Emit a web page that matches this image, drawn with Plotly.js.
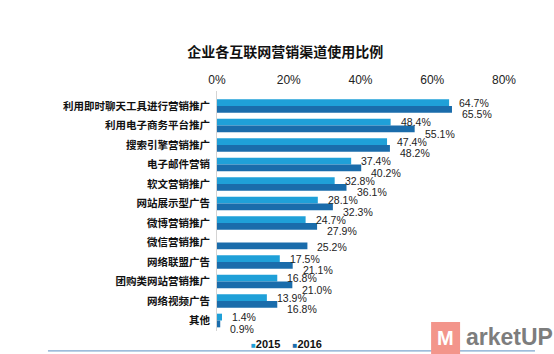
<!DOCTYPE html>
<html>
<head>
<meta charset="utf-8">
<script src="https://cdn.plot.ly/plotly-3.0.1.min.js"></script>
<style>html,body{margin:0;padding:0;background:#fff;}#chart{width:554px;height:354px;}</style>
</head>
<body>
<div id="chart"></div>
<script>
const categories = ["利用即时聊天工具进行营销推广","利用电子商务平台推广","搜索引擎营销推广","电子邮件营销","软文营销推广","网站展示型广告","微博营销推广","微信营销推广","网络联盟广告","团购类网站营销推广","网络视频广告","其他"];
const values2015 = [64.7, 48.4, 47.4, 37.4, 32.8, 28.1, 24.7, null, 17.5, 16.8, 13.9, 1.4];
const values2016 = [65.5, 55.1, 48.2, 40.2, 36.1, 32.3, 27.9, 25.2, 21.1, 21.0, 16.8, 0.9];
const xTickVals = [0, 20, 40, 60, 80];
const xTickText = ["0%", "20%", "40%", "60%", "80%"];
const seriesNames = ["2015", "2016"];
const seriesColors = ["#1fa0d8", "#1a6cab"];

const cjk = '"Noto Sans CJK SC", "Liberation Sans", Arial, sans-serif';
const latin = '"Liberation Sans", Arial, sans-serif';
const lbl = v => v.toFixed(1) + "%";

const traces = [values2015, values2016].map((vals, k) => ({
  type:'bar', orientation:'h', name:seriesNames[k], y:categories, x:vals,
  marker:{color:seriesColors[k]}, hoverinfo:'x+y'
}));

const annotations = [];
categories.forEach((c, i) => {
  if (values2015[i] != null) {
    annotations.push({x:values2015[i], y:c, xref:'x', yref:'y', text:lbl(values2015[i]), showarrow:false,
      xanchor:'left', yanchor:'middle', xshift:9, yshift:3.5, borderpad:0,
      font:{size:10.5, color:'#222', family:latin}});
  }
  if (values2016[i] != null) {
    annotations.push({x:values2016[i], y:c, xref:'x', yref:'y', text:lbl(values2016[i]), showarrow:false,
      xanchor:'left', yanchor:'middle', xshift:9, yshift:(values2015[i] == null ? -4 : -8), borderpad:0,
      font:{size:10.5, color:'#222', family:latin}});
  }
});

// legend (compact, as in the original)
annotations.push({xref:'paper', yref:'paper', x:0.242, y:-0.054, xanchor:'center', yanchor:'middle', showarrow:false,
  text:'<span style="color:' + seriesColors[0] + ';font-size:8px">■</span><b>' + seriesNames[0] + '</b>    ' +
       '<span style="color:' + seriesColors[1] + ';font-size:8px">■</span><b>' + seriesNames[1] + '</b>',
  font:{size:11, color:'#111', family:latin}});

// logo
annotations.push({xref:'paper', yref:'paper', x:0.7965, y:-0.03, xanchor:'center', yanchor:'middle', showarrow:false,
  text:'<b>M</b>', font:{size:20, color:'#ffffff', family:latin}});
annotations.push({xref:'paper', yref:'paper', x:0.862, y:-0.027, xanchor:'left', yanchor:'middle', showarrow:false,
  text:'<b>arketUP</b>', font:{size:23, color:'#7d7d7d', family:latin}});

const layout = {
  width:554, height:354,
  margin:{l:217, r:50, t:91, b:23},
  paper_bgcolor:'#fff', plot_bgcolor:'#fff',
  barmode:'group', bargap:0.3, bargroupgap:0,
  font:{family:cjk, color:'#111'},
  title:{text:'<b>企业各互联网营销渠道使用比例</b>', x:0.515, xanchor:'center', y:0.853, yanchor:'middle',
         font:{size:14, color:'#111', family:cjk}},
  xaxis:{side:'top', range:[0,80], tickvals:xTickVals, ticktext:xTickText, showgrid:false, zeroline:false,
         showline:false, ticks:'', ticklabelstandoff:4, tickfont:{size:12, color:'#222', family:latin}, fixedrange:true},
  yaxis:{type:'category', autorange:'reversed', showgrid:false, zeroline:false, showline:true, linecolor:'#d4d4d4', linewidth:1,
         ticks:'', ticklabelstandoff:4, tickfont:{size:10.5, color:'#111', family:cjk, weight:'bold'}, fixedrange:true},
  showlegend:false,
  shapes:[
    {type:'line', xref:'paper', yref:'paper', x0:-0.589, x1:1.108, y0:-0.083, y1:-0.083, line:{color:'#5b8fc2', width:1}},
    {type:'rect', xref:'paper', yref:'paper', x0:0.746, x1:0.847, y0:0.0375, y1:-0.096, line:{width:0}, fillcolor:'#f3958b', layer:'above'}
  ],
  annotations:annotations
};

Plotly.newPlot('chart', traces, layout, {displayModeBar:false, staticPlot:true});
</script>
</body>
</html>
